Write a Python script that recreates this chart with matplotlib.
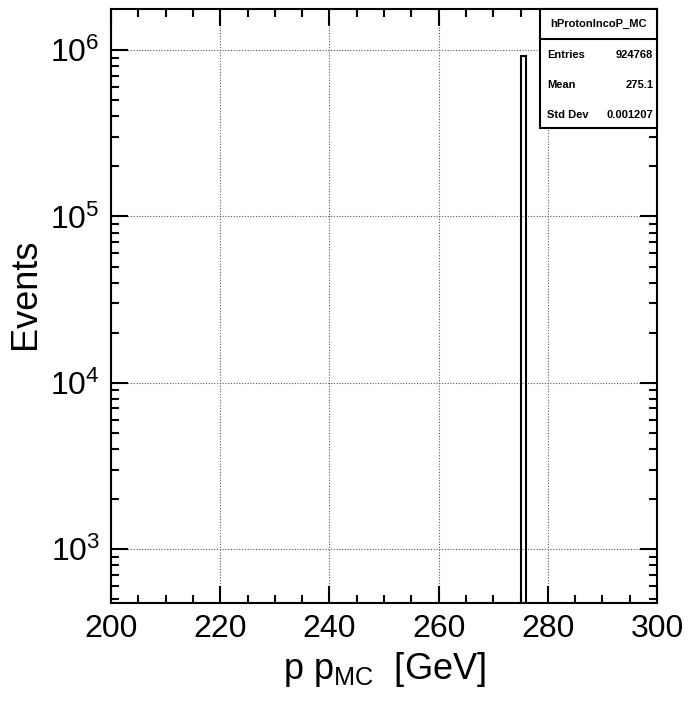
import matplotlib
matplotlib.use("Agg")
import matplotlib.pyplot as plt
from matplotlib.patches import Rectangle
from matplotlib.ticker import MultipleLocator, LogLocator, NullFormatter
import numpy as np

plt.rcParams['font.family'] = ['Liberation Sans', 'DejaVu Sans']
plt.rcParams['mathtext.fontset'] = 'custom'
plt.rcParams['mathtext.rm'] = 'Liberation Sans'
plt.rcParams['mathtext.it'] = 'Liberation Sans:italic'

# histogram contents
bin_edges = [275.0, 276.0]
counts = [924768]

hist_name = "hProtonIncoP_MC"
stat_labels = ["Entries", "Mean", "Std Dev"]
stat_values = ["924768", "275.1", "0.001207"]

x_range = (200, 300)
y_range = (473, 1.77e6)

fig = plt.figure(figsize=(6.92, 7.06), dpi=100)
ax = fig.add_axes([111 / 692, 1 - 603 / 706, 546 / 692, 594 / 706])

ax.stairs(counts, bin_edges, baseline=1, color='black', linewidth=1.5)

ax.set_yscale('log')
ax.set_xlim(*x_range)
ax.set_ylim(*y_range)

ax.xaxis.set_major_locator(MultipleLocator(20))
ax.xaxis.set_minor_locator(MultipleLocator(5))
ax.yaxis.set_major_locator(LogLocator(base=10))
ax.yaxis.set_minor_locator(LogLocator(base=10, subs=np.arange(2, 10)))
ax.yaxis.set_minor_formatter(NullFormatter())

ax.tick_params(which='both', direction='in', top=True, right=True, width=1.5)
ax.tick_params(which='major', length=12, labelsize=23, pad=8)
ax.tick_params(which='minor', length=6)
for s in ax.spines.values():
    s.set_linewidth(1.5)

ax.grid(True, which='major', linestyle=(0, (1, 1.5)), color='0.35', linewidth=0.8)
ax.set_axisbelow(True)

ax.set_xlabel(r'p p$_{\mathrm{MC}}$  [GeV]', fontsize=26, labelpad=4)
ax.set_ylabel('Events', fontsize=26)
ax.yaxis.set_label_coords(-0.125, 0.52)

# stats box
x0, y0, y_sep = 0.786, 0.7997, 0.9495
ax.add_patch(Rectangle((x0, y0), 1 - x0, 1 - y0, transform=ax.transAxes,
                       facecolor='white', edgecolor='black', linewidth=1.5,
                       zorder=5, clip_on=False))
ax.plot([x0, 1], [y_sep, y_sep], transform=ax.transAxes, color='black',
        linewidth=1.5, zorder=6, clip_on=False)
ax.text((x0 + 1) / 2, (y_sep + 1) / 2, hist_name, transform=ax.transAxes,
        ha='center', va='center', fontsize=8, fontweight='bold', zorder=7)
row_y = [(603 - 55) / 594, (603 - 85) / 594, (603 - 115) / 594]
for lab, val, yy in zip(stat_labels, stat_values, row_y):
    ax.text(x0 + 0.013, yy, lab, transform=ax.transAxes, ha='left', va='center',
            fontsize=8, fontweight='bold', zorder=7)
    ax.text(0.993, yy, val, transform=ax.transAxes, ha='right', va='center',
            fontsize=8, fontweight='bold', zorder=7)

fig.savefig('out.png', dpi=100)
